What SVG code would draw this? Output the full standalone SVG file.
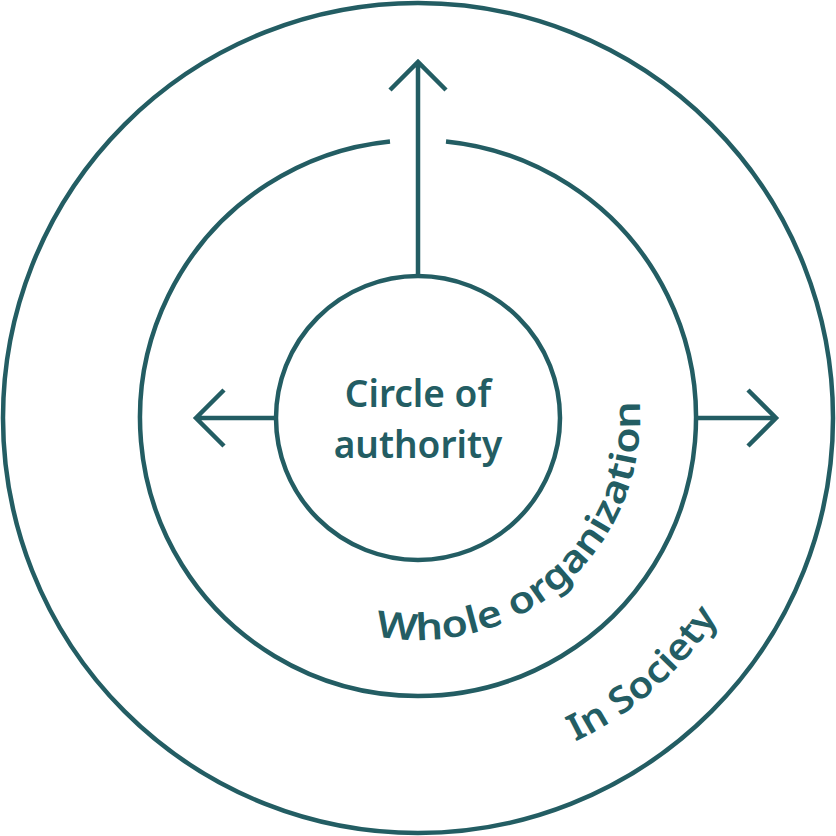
<svg xmlns="http://www.w3.org/2000/svg" width="836" height="836" viewBox="0 0 836 836">
<style>
.s{fill:none;stroke:#235d63;stroke-width:4.5;stroke-linecap:butt;stroke-linejoin:miter}
.t{fill:#235d63;font-family:"Noto Sans","Open Sans",sans-serif;font-weight:600}
</style>
<defs>
<path id="pw" d="M 196 418 A 222 222 0 0 0 640 418 A 222 222 0 0 0 196 418"/>
<path id="ps" d="M 58 418 A 360 360 0 0 0 778 418 A 360 360 0 0 0 58 418"/>
</defs>
<g id="outer"><circle class="s" cx="418" cy="418" r="415"/>
<text class="t" font-size="37"><textPath href="#ps" startOffset="728" textLength="192" lengthAdjust="spacingAndGlyphs">In Society</textPath></text></g>
<g id="middle"><path class="s" d="M 446 141.4 A 278 278 0 1 1 390 141.4"/>
<text class="t" font-size="37"><textPath href="#pw" startOffset="306" textLength="408" lengthAdjust="spacingAndGlyphs">Whole organization</textPath></text></g>
<g id="inner"><circle class="s" cx="418" cy="418" r="142"/>
<text class="t" font-size="37" text-anchor="middle" x="418" y="407">Circle of</text>
<text class="t" font-size="37" text-anchor="middle" x="418" y="458">authority</text></g>
<g id="connectors">
<path class="s" d="M418 274V62M390 90L418 62L446 90"/>
<path class="s" d="M276 418H198M224 390L196 418L224 446"/>
<path class="s" d="M698 418H774M748 390L776 418L748 446"/>
</g>
</svg>
